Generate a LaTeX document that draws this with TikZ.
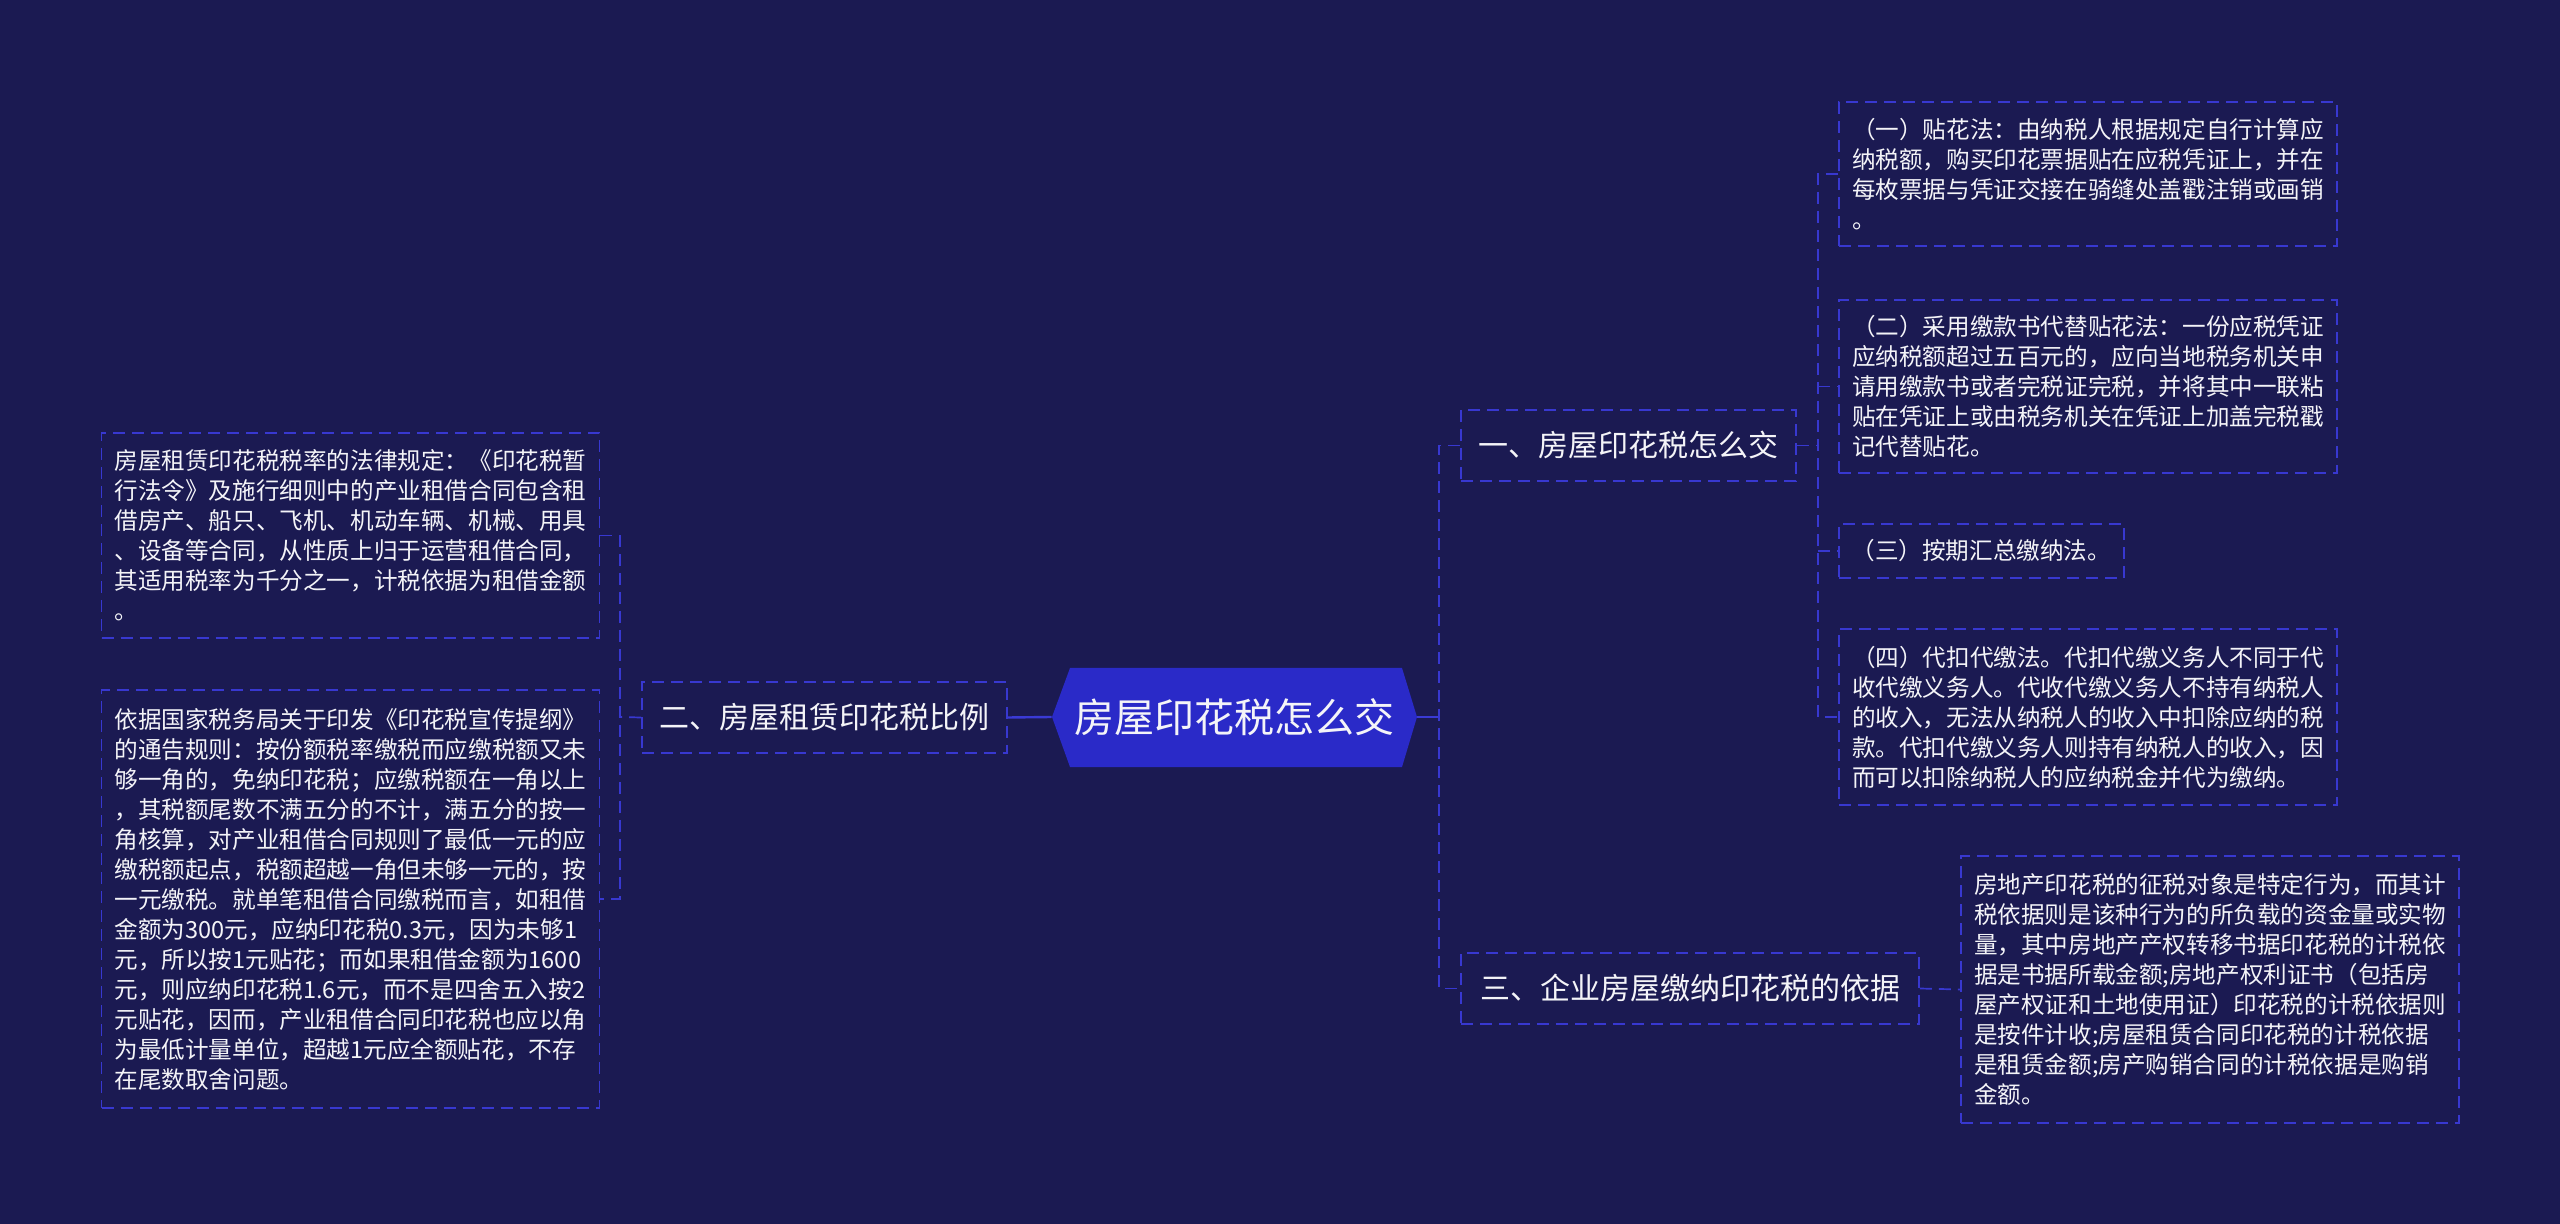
\documentclass[tikz,border=0pt]{standalone}
\usepackage{fontspec}
\setmainfont{Noto Sans CJK SC}
\definecolor{bgc}{HTML}{1B1A52}
\definecolor{dashc}{HTML}{3838D0}
\definecolor{conc}{HTML}{3A3AD6}
\definecolor{hexc}{HTML}{2A2AC8}
\definecolor{txtc}{HTML}{F4F4F8}
\newcommand{\leaffont}{\fontsize{11.8pt}{15pt}\selectfont}
\newcommand{\branchfont}{\fontsize{15pt}{18pt}\selectfont}
\newcommand{\rootfont}{\fontsize{20pt}{24pt}\selectfont}
\begin{document}
\begin{tikzpicture}[x=0.5pt,y=-0.5pt,
  dashline/.style={draw=dashc, line width=0.85pt, dash pattern=on 6pt off 3.5pt},
  leafbox/.style={dashline, text=txtc, font=\leaffont, align=left, inner xsep=6.25pt, inner ysep=0pt, text width=236pt, minimum width=249pt},
  branchbox/.style={dashline, text=txtc, font=\branchfont, align=center, inner sep=0pt, minimum height=35.5pt},
  solidline/.style={draw=conc, line width=1.2pt},
]
\fill[bgc] (0,0) rectangle (2560,1224);
\useasboundingbox (0,0) rectangle (2560,1224);

% root hexagon
\fill[hexc] (1052,717) -- (1070,668) -- (1402,668) -- (1417,717) -- (1402,767) -- (1070,767) -- cycle;
\node[text=txtc, font=\rootfont, inner sep=0pt, minimum width=182.5pt, minimum height=49.5pt] (root) at (1234.5,717) {房屋印花税怎么交};

% branches
\node[branchbox, minimum width=182.5pt] (lb) at (824.5,717.5) {二、房屋租赁印花税比例};
\node[branchbox, minimum width=167.5pt] (b1) at (1628.5,445.5) {一、房屋印花税怎么交};
\node[branchbox, minimum width=229pt] (b3) at (1690,988.5) {三、企业房屋缴纳印花税的依据};

% left leaves
\node[leafbox, minimum height=102.5pt] (la) at (350.5,535.5) {房屋租赁印花税税率的法律规定：《印花税暂\\行法令》及施行细则中的产业租借合同包含租\\借房产、船只、飞机、机动车辆、机械、用具\\、设备等合同，从性质上归于运营租借合同，\\其适用税率为千分之一，计税依据为租借金额\\。};
\node[leafbox, minimum height=209pt] (lbb) at (350.5,899) {依据国家税务局关于印发《印花税宣传提纲》\\的通告规则：按份额税率缴税而应缴税额又未\\够一角的，免纳印花税；应缴税额在一角以上\\，其税额尾数不满五分的不计，满五分的按一\\角核算，对产业租借合同规则了最低一元的应\\缴税额起点，税额超越一角但未够一元的，按\\一元缴税。就单笔租借合同缴税而言，如租借\\金额为300元，应纳印花税0.3元，因为未够1\\元，所以按1元贴花；而如果租借金额为1600\\元，则应纳印花税1.6元，而不是四舍五入按2\\元贴花，因而，产业租借合同印花税也应以角\\为最低计量单位，超越1元应全额贴花，不存\\在尾数取舍问题。};

% right leaves of branch 1
\node[leafbox, minimum height=72pt] (r1) at (2088,174) {（一）贴花法：由纳税人根据规定自行计算应\\纳税额，购买印花票据贴在应税凭证上，并在\\每枚票据与凭证交接在骑缝处盖戳注销或画销\\。};
\node[leafbox, minimum height=86.5pt] (r2) at (2088,386.5) {（二）采用缴款书代替贴花法：一份应税凭证\\应纳税额超过五百元的，应向当地税务机关申\\请用缴款书或者完税证完税，并将其中一联粘\\贴在凭证上或由税务机关在凭证上加盖完税戳\\记代替贴花。};
\node[leafbox, text width=130pt, minimum width=142.5pt, minimum height=27pt] (r3) at (1981.5,551) {（三）按期汇总缴纳法。};
\node[leafbox, minimum height=88pt] (r4) at (2088,717) {（四）代扣代缴法。代扣代缴义务人不同于代\\收代缴义务人。代收代缴义务人不持有纳税人\\的收入，无法从纳税人的收入中扣除应纳的税\\款。代扣代缴义务人则持有纳税人的收入，因\\而可以扣除纳税人的应纳税金并代为缴纳。};

% leaf of branch 3
\node[leafbox, minimum height=133.5pt] (r5) at (2210,989.5) {房地产印花税的征税对象是特定行为，而其计\\税依据则是该种行为的所负载的资金量或实物\\量，其中房地产产权转移书据印花税的计税依\\据是书据所载金额;房地产权利证书（包括房\\屋产权证和土地使用证）印花税的计税依据则\\是按件计收;房屋租赁合同印花税的计税依据\\是租赁金额;房产购销合同的计税依据是购销\\金额。};

% junction coordinates
\coordinate (lj) at (620,717);
\coordinate (rj) at (1439,717);
\coordinate (bj) at (1818,445.5);

% connectors
\draw[solidline] (root.west) -- (lb.east);
\draw[solidline] (root.east) -- (rj);
\draw[dashline] (lb.west) -- (lj);
\draw[dashline] (la.east) -| (lj) |- (lbb.east);
\draw[dashline] (b1.west) -| (rj) |- (b3.west);
\draw[dashline] (b1.east) -- (bj);
\draw[dashline] (r1.west) -| (bj) |- (r4.west);
\draw[dashline] (bj |- r2.west) -- (r2.west);
\draw[dashline] (bj |- r3.west) -- (r3.west);
\draw[dashline] (b3.east) -- (r5.west);
\end{tikzpicture}
\end{document}
